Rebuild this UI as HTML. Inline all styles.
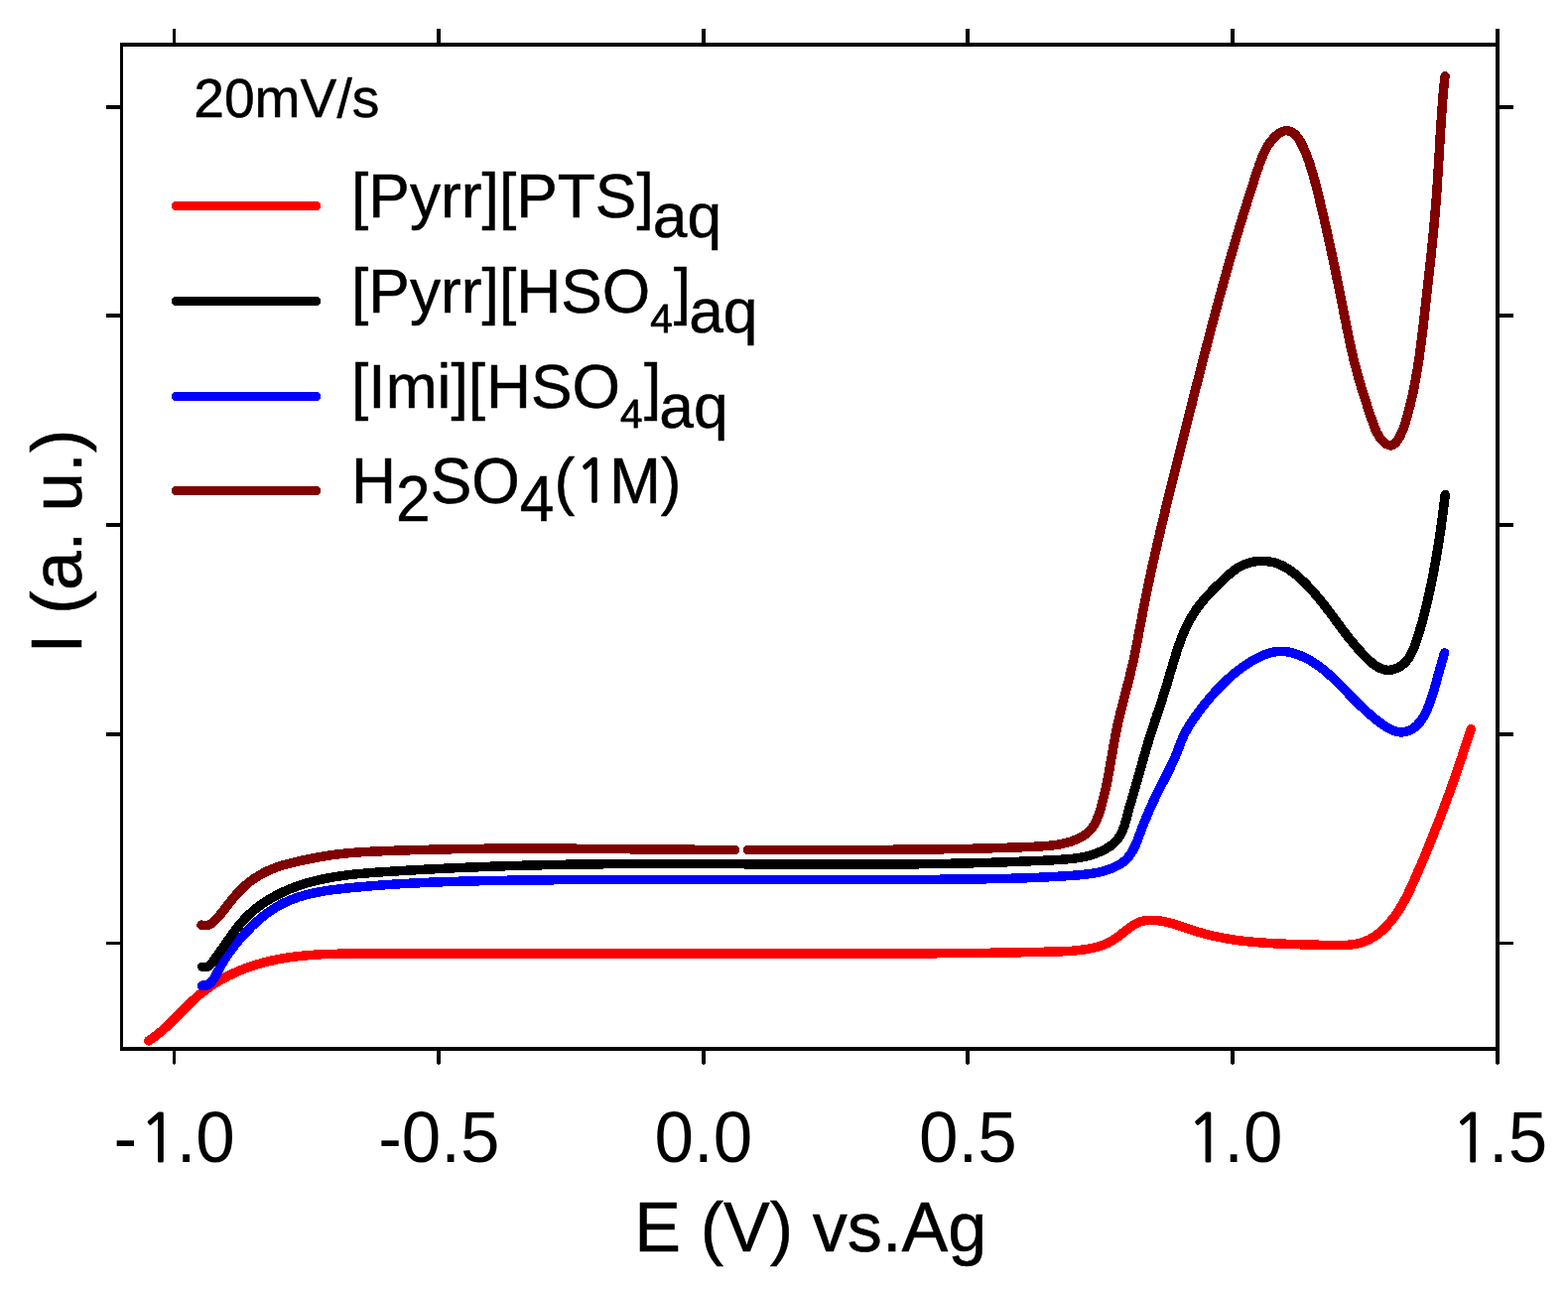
<!DOCTYPE html>
<html lang="en"><head><meta charset="utf-8"><title>I (a. u.) - E (V) vs.Ag</title>
<style>
html,body{margin:0;padding:0;background:#fff;}
body{width:1580px;height:1300px;overflow:hidden;}
svg{display:block;}
text{font-family:"Liberation Sans",sans-serif;fill:#000;font-kerning:none;stroke:#000;stroke-width:0.5px;stroke-linejoin:round;}
text.tk{stroke:none;}
.n1{font-family:"NanumGothic","Liberation Sans",sans-serif;stroke:#000;}
.ax{fill:#000;stroke:none;shape-rendering:crispEdges;}
.cv{fill:none;stroke-width:9.5;stroke-linecap:round;stroke-linejoin:round;shape-rendering:crispEdges;}
</style></head><body>
<svg width="1580" height="1300" viewBox="0 0 1580 1300">
<rect width="1580" height="1300" fill="#fff"/>
<g class="cv">
<path stroke="#ff0000" d="M149.7 1048.9C150.5 1048.3 153.1 1046.7 154.7 1045.5C156.3 1044.3 157.9 1043.1 159.5 1041.8C161.1 1040.6 162.6 1039.3 164.1 1038.0C165.6 1036.6 167.0 1035.3 168.5 1033.9C170.0 1032.6 171.4 1031.2 172.8 1029.8C174.2 1028.3 175.6 1026.9 177.1 1025.5C178.5 1024.1 179.9 1022.6 181.3 1021.2C182.7 1019.8 184.1 1018.3 185.5 1016.9C186.9 1015.5 188.3 1014.1 189.7 1012.7C191.2 1011.2 192.6 1009.9 194.1 1008.5C195.6 1007.1 197.1 1005.8 198.6 1004.4C200.1 1003.1 201.7 1001.8 203.3 1000.6C204.8 999.3 206.5 998.1 208.1 996.9C209.7 995.7 211.4 994.5 213.1 993.4C214.8 992.2 216.5 991.1 218.2 990.1C220.0 989.0 221.7 988.0 223.5 986.9C225.3 985.9 227.1 985.0 228.9 984.0C230.7 983.1 232.5 982.2 234.3 981.3C236.2 980.5 238.0 979.6 239.8 978.8C241.7 978.0 243.6 977.3 245.4 976.5C247.3 975.8 249.2 975.1 251.1 974.4C252.9 973.8 254.8 973.2 256.7 972.6C258.6 972.0 260.5 971.4 262.5 970.9C264.4 970.3 266.3 969.8 268.2 969.3C270.1 968.8 272.1 968.4 274.0 968.0C275.9 967.5 277.9 967.1 279.8 966.8C281.8 966.4 283.7 966.0 285.7 965.7C287.6 965.4 289.6 965.1 291.6 964.8C293.5 964.5 295.5 964.2 297.5 964.0C299.5 963.8 301.4 963.5 303.4 963.3C305.4 963.1 307.4 962.9 309.4 962.8C311.4 962.6 313.4 962.5 315.4 962.3C317.4 962.2 319.4 962.0 321.4 961.9C323.4 961.8 325.4 961.7 327.4 961.6C329.4 961.6 331.4 961.5 333.4 961.4C335.4 961.4 337.5 961.3 339.5 961.3C341.5 961.2 343.5 961.2 345.5 961.1C347.5 961.1 349.6 961.1 351.6 961.1C353.6 961.1 355.6 961.0 357.7 961.0C359.7 961.0 361.7 961.0 363.7 961.0C365.8 961.0 367.8 961.0 369.8 961.0C371.8 961.0 373.8 961.0 375.9 961.0C377.9 961.0 379.9 961.0 381.9 961.0C384.0 961.0 386.0 961.0 388.0 961.0C390.0 961.0 392.0 961.0 394.1 961.0C396.1 961.0 398.1 961.0 400.1 961.0C402.2 961.0 404.2 961.0 406.2 961.0C408.2 961.0 410.2 961.0 412.3 961.0C414.3 961.0 416.3 961.0 418.3 961.0C420.3 961.0 422.3 961.0 424.4 961.0C426.4 961.0 428.4 961.0 430.4 961.0C432.4 961.0 434.5 961.0 436.5 961.0C438.5 961.0 440.5 961.0 442.5 961.0C444.5 961.0 446.6 961.0 448.6 961.0C450.6 961.0 452.6 961.0 454.6 961.0C456.6 961.0 458.6 961.0 460.7 960.9C462.7 960.9 464.7 960.9 466.7 960.9C468.7 960.9 470.7 960.9 472.7 960.9C474.8 960.9 476.8 960.9 478.8 960.9C480.8 960.9 482.8 960.9 484.8 960.9C486.8 960.9 488.9 960.9 490.9 960.9C492.9 960.9 494.9 960.9 496.9 960.9C498.9 960.9 500.9 960.9 502.9 960.9C505.0 960.9 507.0 960.9 509.0 960.9C511.0 960.9 513.0 960.9 515.0 960.9C517.0 960.9 519.0 960.9 521.0 960.9C523.1 960.9 525.1 960.9 527.1 960.9C529.1 960.9 531.1 960.9 533.1 960.9C535.1 960.9 537.1 960.9 539.1 960.9C541.1 960.9 543.2 960.9 545.2 960.9C547.2 960.9 549.2 960.9 551.2 960.9C553.2 960.9 555.2 960.9 557.2 960.9C559.2 960.9 561.2 960.9 563.2 960.9C565.3 960.9 567.3 960.9 569.3 960.9C571.3 960.9 573.3 960.9 575.3 960.9C577.3 960.9 579.3 960.9 581.3 960.9C583.3 960.9 585.3 960.9 587.3 960.9C589.4 960.9 591.4 960.9 593.4 960.9C595.4 960.9 597.4 960.9 599.4 960.9C601.4 960.9 603.4 960.9 605.4 960.9C607.4 960.9 609.4 960.9 611.4 960.9C613.4 960.9 615.5 960.9 617.5 960.9C619.5 960.9 621.5 960.9 623.5 960.9C625.5 960.9 627.5 960.9 629.5 960.9C631.5 960.9 633.5 960.9 635.5 960.9C637.5 960.9 639.5 960.9 641.5 960.9C643.5 960.9 645.6 960.9 647.6 960.9C649.6 960.9 651.6 960.9 653.6 960.9C655.6 960.9 657.6 960.9 659.6 960.9C661.6 960.9 663.6 960.9 665.6 960.9C667.6 960.9 669.6 960.9 671.6 960.9C673.6 960.9 675.7 960.9 677.7 960.9C679.7 960.9 681.7 960.9 683.7 960.9C685.7 960.9 687.7 960.9 689.7 960.9C691.7 960.9 693.7 960.9 695.7 960.9C697.7 960.9 699.7 960.9 701.7 960.9C703.7 960.9 705.8 960.9 707.8 960.9C709.8 960.9 711.8 960.9 713.8 960.9C715.8 960.9 717.8 960.9 719.8 960.9C721.8 960.9 723.8 960.9 725.8 960.9C727.8 960.9 729.8 960.9 731.8 960.9C733.8 960.9 735.9 960.9 737.9 960.9C739.9 960.9 741.9 960.9 743.9 960.9C745.9 960.9 747.9 960.9 749.9 960.9C751.9 960.9 753.9 960.9 755.9 960.9C757.9 960.9 759.9 960.9 762.0 960.9C764.0 960.9 766.0 960.9 768.0 960.9C770.0 960.9 772.0 960.9 774.0 960.9C776.0 960.9 778.0 960.9 780.0 960.9C782.0 960.9 784.0 960.9 786.1 960.9C788.1 960.9 790.1 960.9 792.1 960.9C794.1 960.9 796.1 960.9 798.1 960.9C800.1 960.9 802.1 960.9 804.1 960.9C806.1 960.9 808.2 960.9 810.2 960.9C812.2 960.9 814.2 960.9 816.2 960.9C818.2 960.9 820.2 960.9 822.2 960.9C824.2 960.9 826.2 960.9 828.3 960.9C830.3 960.9 832.3 960.9 834.3 960.9C836.3 960.9 838.3 960.9 840.3 960.9C842.3 960.9 844.3 960.9 846.4 960.9C848.4 960.9 850.4 960.9 852.4 960.9C854.4 960.9 856.4 960.9 858.4 960.9C860.4 960.9 862.5 960.9 864.5 960.9C866.5 960.9 868.5 960.9 870.5 960.9C872.5 960.9 874.5 960.9 876.5 960.9C878.6 960.9 880.6 960.9 882.6 960.9C884.6 960.9 886.6 960.9 888.6 960.9C890.6 960.9 892.7 960.9 894.7 960.9C896.7 960.9 898.7 960.9 900.7 960.9C902.7 960.9 904.7 960.9 906.7 960.9C908.8 960.9 910.8 960.9 912.8 960.9C914.8 960.9 916.8 960.9 918.8 960.9C920.8 960.9 922.9 960.9 924.9 960.8C926.9 960.8 928.9 960.8 930.9 960.8C932.9 960.8 934.9 960.8 937.0 960.8C939.0 960.8 941.0 960.8 943.0 960.8C945.0 960.7 947.0 960.7 949.0 960.7C951.1 960.7 953.1 960.7 955.1 960.7C957.1 960.7 959.1 960.7 961.1 960.6C963.1 960.6 965.2 960.6 967.2 960.6C969.2 960.6 971.2 960.5 973.2 960.5C975.2 960.5 977.2 960.5 979.3 960.5C981.3 960.4 983.3 960.4 985.3 960.4C987.3 960.4 989.3 960.4 991.3 960.3C993.3 960.3 995.4 960.3 997.4 960.3C999.4 960.2 1001.4 960.2 1003.4 960.2C1005.4 960.1 1007.4 960.1 1009.5 960.1C1011.5 960.0 1013.5 960.0 1015.5 960.0C1017.5 960.0 1019.5 959.9 1021.5 959.9C1023.6 959.8 1025.6 959.8 1027.6 959.8C1029.6 959.7 1031.6 959.7 1033.6 959.7C1035.6 959.6 1037.6 959.6 1039.7 959.5C1041.7 959.5 1043.7 959.4 1045.7 959.4C1047.7 959.4 1049.7 959.3 1051.7 959.3C1053.7 959.2 1055.8 959.2 1057.8 959.1C1059.8 959.1 1061.8 959.0 1063.8 959.0C1065.8 958.9 1067.8 958.8 1069.8 958.8C1071.8 958.7 1073.8 958.6 1075.9 958.5C1077.9 958.4 1079.9 958.3 1081.8 958.1C1083.8 957.9 1085.8 957.7 1087.8 957.5C1089.8 957.3 1091.8 957.0 1093.7 956.7C1095.7 956.4 1097.7 956.1 1099.6 955.6C1101.6 955.2 1103.5 954.8 1105.4 954.3C1107.3 953.7 1109.3 953.2 1111.1 952.5C1113.0 951.8 1114.8 951.0 1116.6 950.2C1118.4 949.3 1120.2 948.3 1121.9 947.2C1123.6 946.1 1125.3 944.9 1127.0 943.7C1128.6 942.5 1130.2 941.2 1131.8 939.9C1133.5 938.6 1135.1 937.3 1136.7 936.1C1138.3 934.9 1140.0 933.7 1141.7 932.6C1143.3 931.6 1145.0 930.6 1146.8 929.8C1148.6 929.1 1150.4 928.4 1152.3 928.0C1154.1 927.6 1156.1 927.4 1158.1 927.3C1160.0 927.2 1162.1 927.3 1164.1 927.4C1166.1 927.6 1168.1 927.9 1170.0 928.2C1172.0 928.5 1174.0 928.9 1175.9 929.4C1177.9 929.8 1179.8 930.4 1181.8 930.9C1183.7 931.5 1185.6 932.1 1187.5 932.7C1189.5 933.3 1191.4 933.9 1193.3 934.6C1195.2 935.2 1197.1 935.9 1199.1 936.5C1201.0 937.2 1202.9 937.8 1204.8 938.4C1206.8 939.0 1208.7 939.6 1210.7 940.2C1212.6 940.7 1214.5 941.2 1216.5 941.7C1218.4 942.2 1220.4 942.7 1222.4 943.2C1224.3 943.6 1226.3 944.0 1228.3 944.4C1230.3 944.8 1232.2 945.2 1234.2 945.6C1236.2 945.9 1238.2 946.2 1240.2 946.6C1242.2 946.9 1244.1 947.2 1246.1 947.4C1248.1 947.7 1250.1 947.9 1252.1 948.2C1254.1 948.4 1256.1 948.6 1258.1 948.8C1260.1 949.0 1262.1 949.2 1264.1 949.4C1266.1 949.6 1268.1 949.7 1270.1 949.9C1272.2 950.0 1274.2 950.2 1276.2 950.3C1278.2 950.4 1280.2 950.5 1282.2 950.7C1284.2 950.8 1286.2 950.9 1288.2 951.0C1290.2 951.0 1292.2 951.1 1294.2 951.2C1296.1 951.3 1298.1 951.4 1300.1 951.4C1302.1 951.5 1304.1 951.6 1306.1 951.6C1308.1 951.7 1310.0 951.8 1312.0 951.8C1314.0 951.9 1316.0 951.9 1318.0 952.0C1320.0 952.1 1322.0 952.1 1324.0 952.2C1326.0 952.2 1328.0 952.2 1330.0 952.3C1332.0 952.3 1334.1 952.4 1336.1 952.4C1338.2 952.4 1340.2 952.5 1342.3 952.5C1344.4 952.5 1346.4 952.6 1348.5 952.6C1350.6 952.6 1352.7 952.6 1354.8 952.5C1356.8 952.4 1358.9 952.2 1360.9 952.0C1363.0 951.8 1365.0 951.5 1366.9 951.1C1368.9 950.7 1370.8 950.3 1372.7 949.6C1374.6 949.0 1376.4 948.3 1378.2 947.5C1379.9 946.7 1381.7 945.7 1383.3 944.7C1385.0 943.7 1386.6 942.6 1388.2 941.4C1389.8 940.2 1391.3 938.9 1392.8 937.6C1394.3 936.3 1395.7 934.8 1397.1 933.4C1398.5 931.9 1399.8 930.4 1401.1 928.9C1402.4 927.3 1403.6 925.7 1404.8 924.1C1406.0 922.5 1407.2 920.8 1408.3 919.2C1409.4 917.5 1410.5 915.8 1411.5 914.1C1412.6 912.3 1413.6 910.6 1414.5 908.8C1415.5 907.1 1416.4 905.3 1417.4 903.5C1418.3 901.7 1419.2 899.9 1420.0 898.1C1420.9 896.3 1421.8 894.4 1422.6 892.6C1423.5 890.8 1424.3 888.9 1425.1 887.1C1425.9 885.2 1426.7 883.4 1427.5 881.5C1428.3 879.7 1429.1 877.8 1429.9 876.0C1430.7 874.1 1431.5 872.3 1432.3 870.4C1433.1 868.6 1433.9 866.7 1434.7 864.9C1435.5 863.0 1436.2 861.2 1437.0 859.3C1437.8 857.4 1438.5 855.6 1439.3 853.7C1440.1 851.9 1440.8 850.0 1441.6 848.1C1442.3 846.3 1443.1 844.4 1443.8 842.5C1444.6 840.7 1445.3 838.8 1446.0 836.9C1446.8 835.1 1447.5 833.2 1448.3 831.3C1449.0 829.5 1449.7 827.6 1450.4 825.7C1451.1 823.8 1451.9 822.0 1452.6 820.1C1453.3 818.2 1454.0 816.3 1454.7 814.4C1455.4 812.6 1456.1 810.7 1456.8 808.8C1457.5 806.9 1458.2 805.0 1458.9 803.2C1459.6 801.3 1460.3 799.4 1461.0 797.5C1461.6 795.6 1462.3 793.7 1463.0 791.8C1463.7 789.9 1464.4 788.0 1465.0 786.1C1465.7 784.3 1466.4 782.4 1467.0 780.5C1467.7 778.6 1468.3 776.7 1469.0 774.8C1469.6 772.9 1470.3 771.0 1470.9 769.1C1471.6 767.2 1472.2 765.3 1472.9 763.4C1473.5 761.5 1474.2 759.5 1474.8 757.6C1475.4 755.7 1476.1 753.8 1476.7 751.9C1477.3 750.0 1477.9 748.1 1478.6 746.2C1479.2 744.3 1479.8 742.4 1480.4 740.4C1481.0 738.5 1482.0 735.6 1482.3 734.7"/>
<path stroke="#0000ff" d="M203.4 993.2C204.4 993.1 207.6 993.2 209.3 992.5C211.0 991.8 212.4 990.3 213.7 988.9C215.0 987.4 216.0 985.5 217.1 983.7C218.2 981.9 219.1 979.8 220.1 977.9C221.1 976.1 222.1 974.2 223.2 972.4C224.2 970.6 225.2 968.9 226.3 967.2C227.4 965.5 228.5 963.8 229.6 962.2C230.7 960.6 231.8 959.0 233.0 957.4C234.2 955.8 235.4 954.3 236.6 952.7C237.8 951.2 239.1 949.7 240.3 948.1C241.6 946.6 242.9 945.1 244.3 943.6C245.6 942.0 247.0 940.5 248.4 939.0C249.8 937.5 251.2 936.1 252.7 934.6C254.1 933.2 255.6 931.7 257.1 930.3C258.6 928.9 260.2 927.6 261.7 926.2C263.3 924.9 264.9 923.6 266.5 922.3C268.1 921.1 269.8 919.8 271.4 918.7C273.1 917.5 274.8 916.4 276.5 915.3C278.2 914.2 279.9 913.2 281.7 912.2C283.4 911.3 285.2 910.4 287.0 909.5C288.8 908.7 290.6 907.9 292.5 907.1C294.3 906.4 296.1 905.7 298.0 905.0C299.9 904.3 301.8 903.7 303.7 903.2C305.6 902.6 307.5 902.1 309.4 901.6C311.3 901.1 313.3 900.6 315.2 900.2C317.2 899.7 319.1 899.3 321.1 899.0C323.1 898.6 325.1 898.3 327.1 897.9C329.0 897.6 331.0 897.3 333.0 897.0C335.0 896.8 337.1 896.5 339.1 896.3C341.1 896.0 343.1 895.8 345.1 895.6C347.1 895.3 349.1 895.1 351.1 894.9C353.2 894.7 355.2 894.5 357.2 894.3C359.2 894.1 361.2 893.9 363.2 893.8C365.3 893.6 367.3 893.4 369.3 893.2C371.3 893.1 373.3 892.9 375.3 892.7C377.3 892.6 379.4 892.4 381.4 892.2C383.4 892.1 385.4 891.9 387.4 891.8C389.4 891.7 391.5 891.5 393.5 891.4C395.5 891.2 397.5 891.1 399.5 891.0C401.5 890.9 403.5 890.7 405.6 890.6C407.6 890.5 409.6 890.4 411.6 890.3C413.6 890.2 415.6 890.1 417.6 890.0C419.6 889.9 421.7 889.8 423.7 889.7C425.7 889.6 427.7 889.5 429.7 889.4C431.7 889.3 433.7 889.2 435.8 889.1C437.8 889.1 439.8 889.0 441.8 888.9C443.8 888.8 445.8 888.8 447.8 888.7C449.8 888.6 451.9 888.6 453.9 888.5C455.9 888.4 457.9 888.4 459.9 888.3C461.9 888.3 463.9 888.2 465.9 888.1C468.0 888.1 470.0 888.0 472.0 888.0C474.0 887.9 476.0 887.9 478.0 887.9C480.0 887.8 482.0 887.8 484.1 887.7C486.1 887.7 488.1 887.6 490.1 887.6C492.1 887.6 494.1 887.5 496.1 887.5C498.1 887.5 500.2 887.4 502.2 887.4C504.2 887.4 506.2 887.3 508.2 887.3C510.2 887.3 512.2 887.2 514.2 887.2C516.3 887.2 518.3 887.2 520.3 887.1C522.3 887.1 524.3 887.1 526.3 887.1C528.3 887.0 530.4 887.0 532.4 887.0C534.4 887.0 536.4 887.0 538.4 886.9C540.4 886.9 542.4 886.9 544.4 886.9C546.5 886.8 548.5 886.8 550.5 886.8C552.5 886.8 554.5 886.8 556.5 886.8C558.5 886.7 560.6 886.7 562.6 886.7C564.6 886.7 566.6 886.7 568.6 886.7C570.6 886.6 572.6 886.6 574.7 886.6C576.7 886.6 578.7 886.6 580.7 886.6C582.7 886.6 584.7 886.5 586.8 886.5C588.8 886.5 590.8 886.5 592.8 886.5C594.8 886.5 596.8 886.5 598.8 886.5C600.9 886.5 602.9 886.5 604.9 886.4C606.9 886.4 608.9 886.4 610.9 886.4C612.9 886.4 615.0 886.4 617.0 886.4C619.0 886.4 621.0 886.4 623.0 886.4C625.0 886.4 627.1 886.4 629.1 886.4C631.1 886.4 633.1 886.4 635.1 886.4C637.1 886.4 639.1 886.3 641.2 886.3C643.2 886.3 645.2 886.3 647.2 886.3C649.2 886.3 651.2 886.3 653.3 886.3C655.3 886.3 657.3 886.3 659.3 886.3C661.3 886.3 663.3 886.3 665.3 886.3C667.4 886.3 669.4 886.3 671.4 886.3C673.4 886.3 675.4 886.3 677.4 886.3C679.5 886.3 681.5 886.3 683.5 886.3C685.5 886.3 687.5 886.3 689.5 886.3C691.6 886.3 693.6 886.3 695.6 886.3C697.6 886.3 699.6 886.3 701.6 886.3C703.7 886.3 705.7 886.3 707.7 886.4C709.7 886.4 711.7 886.4 713.7 886.4C715.7 886.4 717.8 886.4 719.8 886.4C721.8 886.4 723.8 886.4 725.8 886.4C727.8 886.4 729.9 886.4 731.9 886.4C733.9 886.4 735.9 886.4 737.9 886.4C739.9 886.4 742.0 886.4 744.0 886.4C746.0 886.4 748.0 886.4 750.0 886.4C752.0 886.4 754.1 886.4 756.1 886.4C758.1 886.4 760.1 886.4 762.1 886.4C764.1 886.5 766.2 886.5 768.2 886.5C770.2 886.5 772.2 886.5 774.2 886.5C776.2 886.5 778.2 886.5 780.3 886.5C782.3 886.5 784.3 886.5 786.3 886.5C788.3 886.5 790.3 886.5 792.4 886.5C794.4 886.5 796.4 886.5 798.4 886.5C800.4 886.5 802.4 886.5 804.5 886.5C806.5 886.5 808.5 886.5 810.5 886.5C812.5 886.5 814.5 886.5 816.6 886.5C818.6 886.5 820.6 886.5 822.6 886.6C824.6 886.6 826.6 886.6 828.6 886.6C830.7 886.6 832.7 886.6 834.7 886.6C836.7 886.6 838.7 886.6 840.7 886.6C842.8 886.6 844.8 886.6 846.8 886.6C848.8 886.6 850.8 886.6 852.8 886.6C854.8 886.6 856.9 886.6 858.9 886.6C860.9 886.6 862.9 886.6 864.9 886.6C866.9 886.6 869.0 886.6 871.0 886.6C873.0 886.5 875.0 886.5 877.0 886.5C879.0 886.5 881.0 886.5 883.1 886.5C885.1 886.5 887.1 886.5 889.1 886.5C891.1 886.5 893.1 886.5 895.1 886.5C897.2 886.5 899.2 886.5 901.2 886.5C903.2 886.5 905.2 886.5 907.2 886.5C909.2 886.5 911.3 886.5 913.3 886.4C915.3 886.4 917.3 886.4 919.3 886.4C921.3 886.4 923.3 886.4 925.4 886.4C927.4 886.4 929.4 886.4 931.4 886.4C933.4 886.3 935.4 886.3 937.4 886.3C939.5 886.3 941.5 886.3 943.5 886.3C945.5 886.3 947.5 886.3 949.5 886.2C951.5 886.2 953.5 886.2 955.6 886.2C957.6 886.2 959.6 886.2 961.6 886.1C963.6 886.1 965.6 886.1 967.6 886.1C969.7 886.1 971.7 886.0 973.7 886.0C975.7 886.0 977.7 886.0 979.7 886.0C981.7 885.9 983.7 885.9 985.8 885.9C987.8 885.9 989.8 885.8 991.8 885.8C993.8 885.8 995.8 885.7 997.8 885.7C999.8 885.7 1001.9 885.6 1003.9 885.6C1005.9 885.5 1007.9 885.5 1009.9 885.5C1011.9 885.4 1013.9 885.4 1016.0 885.3C1018.0 885.3 1020.0 885.2 1022.0 885.2C1024.0 885.1 1026.0 885.0 1028.0 885.0C1030.1 884.9 1032.1 884.8 1034.1 884.8C1036.1 884.7 1038.1 884.6 1040.1 884.5C1042.2 884.5 1044.2 884.4 1046.2 884.3C1048.2 884.2 1050.2 884.1 1052.2 884.0C1054.3 883.9 1056.3 883.8 1058.3 883.7C1060.3 883.6 1062.3 883.5 1064.3 883.4C1066.4 883.2 1068.4 883.1 1070.4 883.0C1072.4 882.9 1074.4 882.7 1076.5 882.6C1078.5 882.5 1080.5 882.3 1082.5 882.2C1084.6 882.0 1086.6 881.9 1088.6 881.7C1090.6 881.5 1092.6 881.3 1094.6 881.0C1096.6 880.8 1098.6 880.6 1100.6 880.2C1102.6 879.9 1104.6 879.6 1106.5 879.2C1108.5 878.7 1110.5 878.3 1112.4 877.7C1114.3 877.2 1116.2 876.6 1118.1 875.9C1120.0 875.2 1121.9 874.4 1123.7 873.6C1125.5 872.7 1127.3 871.8 1129.0 870.7C1130.7 869.6 1132.3 868.4 1133.8 867.1C1135.2 865.8 1136.6 864.3 1137.8 862.8C1139.0 861.3 1140.0 859.6 1141.0 857.9C1142.0 856.1 1142.9 854.3 1143.8 852.5C1144.6 850.6 1145.4 848.7 1146.1 846.8C1146.9 844.9 1147.6 842.9 1148.3 841.0C1149.1 839.1 1149.8 837.2 1150.5 835.3C1151.2 833.4 1152.0 831.5 1152.7 829.6C1153.5 827.7 1154.2 825.9 1155.0 824.0C1155.8 822.2 1156.6 820.3 1157.3 818.5C1158.1 816.7 1158.9 814.8 1159.7 813.0C1160.6 811.2 1161.4 809.4 1162.2 807.6C1163.1 805.8 1163.9 804.0 1164.8 802.2C1165.7 800.4 1166.6 798.6 1167.5 796.8C1168.4 795.0 1169.3 793.2 1170.2 791.4C1171.1 789.6 1172.1 787.8 1173.0 786.0C1173.9 784.2 1174.8 782.4 1175.7 780.6C1176.7 778.8 1177.6 777.0 1178.5 775.1C1179.3 773.3 1180.2 771.5 1181.1 769.6C1181.9 767.8 1182.8 766.0 1183.6 764.1C1184.4 762.2 1185.1 760.4 1185.9 758.5C1186.6 756.6 1187.3 754.7 1188.1 752.8C1188.8 751.0 1189.5 749.1 1190.3 747.2C1191.0 745.4 1191.8 743.5 1192.6 741.7C1193.5 739.9 1194.4 738.1 1195.3 736.3C1196.3 734.6 1197.3 732.8 1198.4 731.1C1199.4 729.4 1200.6 727.7 1201.7 726.1C1202.8 724.4 1204.0 722.7 1205.2 721.1C1206.3 719.5 1207.5 717.8 1208.7 716.2C1210.0 714.6 1211.2 713.0 1212.4 711.4C1213.7 709.8 1214.9 708.3 1216.2 706.7C1217.5 705.2 1218.8 703.6 1220.1 702.1C1221.4 700.6 1222.7 699.1 1224.1 697.6C1225.4 696.1 1226.8 694.6 1228.2 693.2C1229.6 691.7 1231.0 690.3 1232.4 688.9C1233.8 687.5 1235.3 686.1 1236.8 684.8C1238.3 683.4 1239.8 682.1 1241.3 680.8C1242.8 679.5 1244.4 678.2 1246.0 676.9C1247.6 675.7 1249.2 674.4 1250.8 673.3C1252.5 672.1 1254.1 670.9 1255.8 669.8C1257.5 668.6 1259.3 667.5 1261.0 666.4C1262.8 665.4 1264.6 664.4 1266.4 663.4C1268.2 662.5 1270.0 661.6 1271.9 660.8C1273.7 660.0 1275.6 659.2 1277.5 658.6C1279.4 658.0 1281.3 657.5 1283.2 657.2C1285.2 656.8 1287.1 656.5 1289.1 656.4C1291.0 656.3 1293.0 656.4 1295.0 656.6C1296.9 656.8 1298.9 657.1 1300.9 657.6C1302.9 658.0 1304.8 658.6 1306.7 659.3C1308.7 660.0 1310.6 660.7 1312.4 661.6C1314.3 662.4 1316.1 663.3 1317.9 664.3C1319.7 665.2 1321.4 666.3 1323.2 667.4C1324.9 668.4 1326.5 669.6 1328.2 670.7C1329.8 671.9 1331.4 673.1 1333.0 674.4C1334.5 675.6 1336.1 676.9 1337.6 678.3C1339.1 679.6 1340.6 680.9 1342.1 682.3C1343.6 683.7 1345.1 685.1 1346.5 686.5C1348.0 687.9 1349.4 689.4 1350.8 690.8C1352.2 692.2 1353.6 693.7 1355.0 695.1C1356.4 696.6 1357.8 698.0 1359.2 699.5C1360.6 700.9 1362.0 702.4 1363.4 703.8C1364.8 705.2 1366.2 706.6 1367.7 708.0C1369.1 709.4 1370.5 710.8 1371.9 712.2C1373.4 713.6 1374.8 715.0 1376.3 716.3C1377.8 717.7 1379.3 719.0 1380.8 720.3C1382.4 721.7 1383.9 723.0 1385.5 724.3C1387.1 725.5 1388.8 726.8 1390.4 728.1C1392.1 729.3 1393.8 730.6 1395.6 731.7C1397.3 732.9 1399.1 734.0 1400.9 734.9C1402.7 735.8 1404.5 736.6 1406.4 737.1C1408.3 737.6 1410.1 737.9 1412.0 737.9C1413.9 737.9 1415.8 737.6 1417.6 737.0C1419.5 736.5 1421.3 735.6 1423.0 734.6C1424.7 733.6 1426.3 732.3 1427.8 731.0C1429.3 729.6 1430.6 728.0 1431.8 726.3C1433.0 724.7 1434.1 722.9 1435.1 721.1C1436.1 719.3 1437.0 717.4 1437.8 715.6C1438.7 713.7 1439.4 711.8 1440.2 709.9C1440.9 708.0 1441.5 706.1 1442.2 704.2C1442.8 702.3 1443.4 700.3 1444.0 698.4C1444.6 696.5 1445.2 694.6 1445.8 692.6C1446.3 690.7 1446.9 688.8 1447.4 686.8C1448.0 684.9 1448.5 683.0 1449.0 681.0C1449.6 679.1 1450.1 677.2 1450.6 675.2C1451.1 673.3 1451.7 671.3 1452.2 669.4C1452.8 667.5 1453.3 665.5 1453.9 663.6C1454.4 661.7 1455.3 658.8 1455.6 657.8"/>
<path stroke="#000000" d="M203.9 974.3C204.9 974.3 208.1 974.7 209.8 974.0C211.4 973.3 212.7 971.6 214.0 970.1C215.3 968.5 216.4 966.6 217.5 964.9C218.7 963.2 220.0 961.5 221.2 959.9C222.3 958.2 223.5 956.6 224.7 954.9C225.9 953.2 227.0 951.6 228.2 949.9C229.4 948.2 230.5 946.5 231.7 944.9C232.9 943.2 234.0 941.6 235.2 939.9C236.4 938.3 237.6 936.7 238.9 935.1C240.1 933.5 241.4 931.9 242.7 930.4C244.0 928.9 245.3 927.3 246.7 925.9C248.1 924.4 249.5 923.0 251.0 921.6C252.4 920.3 254.0 918.9 255.5 917.6C257.0 916.3 258.6 915.1 260.2 913.9C261.8 912.7 263.4 911.5 265.1 910.3C266.8 909.2 268.5 908.1 270.2 907.0C271.9 906.0 273.6 904.9 275.4 904.0C277.1 903.0 278.9 902.0 280.7 901.1C282.5 900.2 284.3 899.3 286.2 898.5C288.0 897.6 289.8 896.8 291.7 896.1C293.5 895.3 295.4 894.6 297.3 893.9C299.2 893.2 301.0 892.5 302.9 891.9C304.8 891.3 306.7 890.7 308.6 890.1C310.6 889.5 312.5 889.0 314.4 888.5C316.3 888.0 318.3 887.5 320.2 887.1C322.1 886.6 324.1 886.2 326.1 885.8C328.0 885.4 330.0 885.0 331.9 884.6C333.9 884.3 335.9 883.9 337.9 883.6C339.9 883.3 341.8 883.0 343.8 882.7C345.8 882.4 347.8 882.2 349.8 881.9C351.8 881.7 353.8 881.5 355.8 881.2C357.8 881.0 359.8 880.8 361.9 880.6C363.9 880.4 365.9 880.3 367.9 880.1C369.9 879.9 371.9 879.7 374.0 879.6C376.0 879.4 378.0 879.3 380.0 879.1C382.0 879.0 384.1 878.9 386.1 878.7C388.1 878.6 390.1 878.5 392.2 878.3C394.2 878.2 396.2 878.1 398.2 878.0C400.2 877.8 402.3 877.7 404.3 877.6C406.3 877.5 408.3 877.3 410.4 877.2C412.4 877.1 414.4 877.0 416.4 876.9C418.4 876.8 420.4 876.6 422.5 876.5C424.5 876.4 426.5 876.3 428.5 876.2C430.5 876.1 432.6 876.0 434.6 875.9C436.6 875.8 438.6 875.7 440.6 875.6C442.6 875.5 444.7 875.4 446.7 875.3C448.7 875.2 450.7 875.1 452.7 875.0C454.7 874.9 456.7 874.8 458.8 874.7C460.8 874.6 462.8 874.5 464.8 874.4C466.8 874.4 468.8 874.3 470.8 874.2C472.9 874.1 474.9 874.0 476.9 873.9C478.9 873.9 480.9 873.8 482.9 873.7C484.9 873.6 486.9 873.5 489.0 873.5C491.0 873.4 493.0 873.3 495.0 873.2C497.0 873.2 499.0 873.1 501.0 873.0C503.0 873.0 505.1 872.9 507.1 872.8C509.1 872.8 511.1 872.7 513.1 872.6C515.1 872.6 517.1 872.5 519.1 872.5C521.1 872.4 523.1 872.3 525.2 872.3C527.2 872.2 529.2 872.2 531.2 872.1C533.2 872.1 535.2 872.0 537.2 872.0C539.2 871.9 541.2 871.9 543.3 871.8C545.3 871.8 547.3 871.7 549.3 871.7C551.3 871.6 553.3 871.6 555.3 871.6C557.3 871.5 559.3 871.5 561.3 871.4C563.3 871.4 565.4 871.4 567.4 871.3C569.4 871.3 571.4 871.2 573.4 871.2C575.4 871.2 577.4 871.1 579.4 871.1C581.4 871.1 583.4 871.1 585.5 871.0C587.5 871.0 589.5 871.0 591.5 870.9C593.5 870.9 595.5 870.9 597.5 870.9C599.5 870.8 601.5 870.8 603.5 870.8C605.6 870.8 607.6 870.8 609.6 870.7C611.6 870.7 613.6 870.7 615.6 870.7C617.6 870.7 619.6 870.7 621.6 870.6C623.7 870.6 625.7 870.6 627.7 870.6C629.7 870.6 631.7 870.6 633.7 870.6C635.7 870.6 637.7 870.6 639.7 870.5C641.7 870.5 643.8 870.5 645.8 870.5C647.8 870.5 649.8 870.5 651.8 870.5C653.8 870.5 655.8 870.5 657.8 870.5C659.9 870.5 661.9 870.5 663.9 870.5C665.9 870.5 667.9 870.5 669.9 870.5C671.9 870.5 673.9 870.5 676.0 870.5C678.0 870.5 680.0 870.5 682.0 870.5C684.0 870.5 686.0 870.5 688.0 870.5C690.0 870.5 692.0 870.5 694.1 870.5C696.1 870.5 698.1 870.5 700.1 870.5C702.1 870.5 704.1 870.5 706.1 870.6C708.2 870.6 710.2 870.6 712.2 870.6C714.2 870.6 716.2 870.6 718.2 870.6C720.2 870.6 722.2 870.6 724.3 870.6C726.3 870.6 728.3 870.6 730.3 870.7C732.3 870.7 734.3 870.7 736.3 870.7C738.3 870.7 740.4 870.7 742.4 870.7C744.4 870.7 746.4 870.7 748.4 870.7C750.4 870.8 752.4 870.8 754.5 870.8C756.5 870.8 758.5 870.8 760.5 870.8C762.5 870.8 764.5 870.8 766.5 870.8C768.6 870.9 770.6 870.9 772.6 870.9C774.6 870.9 776.6 870.9 778.6 870.9C780.6 870.9 782.7 870.9 784.7 870.9C786.7 870.9 788.7 871.0 790.7 871.0C792.7 871.0 794.7 871.0 796.8 871.0C798.8 871.0 800.8 871.0 802.8 871.0C804.8 871.0 806.8 871.0 808.8 871.0C810.9 871.1 812.9 871.1 814.9 871.1C816.9 871.1 818.9 871.1 820.9 871.1C822.9 871.1 825.0 871.1 827.0 871.1C829.0 871.1 831.0 871.1 833.0 871.1C835.0 871.1 837.0 871.1 839.1 871.1C841.1 871.1 843.1 871.1 845.1 871.1C847.1 871.1 849.1 871.1 851.2 871.1C853.2 871.1 855.2 871.1 857.2 871.1C859.2 871.1 861.2 871.1 863.2 871.1C865.3 871.1 867.3 871.1 869.3 871.1C871.3 871.1 873.3 871.1 875.3 871.1C877.3 871.1 879.4 871.1 881.4 871.1C883.4 871.1 885.4 871.1 887.4 871.1C889.4 871.1 891.5 871.0 893.5 871.0C895.5 871.0 897.5 871.0 899.5 871.0C901.5 871.0 903.5 871.0 905.6 871.0C907.6 870.9 909.6 870.9 911.6 870.9C913.6 870.9 915.6 870.9 917.7 870.8C919.7 870.8 921.7 870.8 923.7 870.8C925.7 870.8 927.7 870.7 929.7 870.7C931.8 870.7 933.8 870.7 935.8 870.6C937.8 870.6 939.8 870.6 941.8 870.5C943.9 870.5 945.9 870.5 947.9 870.4C949.9 870.4 951.9 870.4 953.9 870.3C955.9 870.3 958.0 870.3 960.0 870.2C962.0 870.2 964.0 870.1 966.0 870.1C968.0 870.1 970.1 870.0 972.1 870.0C974.1 869.9 976.1 869.9 978.1 869.8C980.1 869.8 982.1 869.7 984.2 869.7C986.2 869.6 988.2 869.6 990.2 869.5C992.2 869.5 994.2 869.4 996.3 869.3C998.3 869.3 1000.3 869.2 1002.3 869.2C1004.3 869.1 1006.3 869.0 1008.3 869.0C1010.4 868.9 1012.4 868.8 1014.4 868.8C1016.4 868.7 1018.4 868.6 1020.4 868.5C1022.5 868.5 1024.5 868.4 1026.5 868.3C1028.5 868.2 1030.5 868.1 1032.5 868.1C1034.5 868.0 1036.6 867.9 1038.6 867.8C1040.6 867.7 1042.6 867.6 1044.6 867.5C1046.6 867.4 1048.7 867.4 1050.7 867.3C1052.7 867.2 1054.7 867.1 1056.7 867.0C1058.7 866.9 1060.7 866.8 1062.8 866.7C1064.8 866.5 1066.8 866.4 1068.8 866.3C1070.8 866.2 1072.8 866.0 1074.8 865.9C1076.8 865.7 1078.8 865.5 1080.8 865.3C1082.8 865.0 1084.8 864.8 1086.7 864.5C1088.7 864.2 1090.7 863.8 1092.6 863.4C1094.5 863.0 1096.5 862.5 1098.4 862.0C1100.3 861.4 1102.2 860.8 1104.1 860.1C1106.0 859.4 1107.8 858.7 1109.7 857.8C1111.5 857.0 1113.4 856.1 1115.1 855.0C1116.9 854.0 1118.6 852.9 1120.2 851.6C1121.8 850.4 1123.3 849.0 1124.7 847.6C1126.0 846.1 1127.2 844.5 1128.2 842.8C1129.3 841.2 1130.2 839.4 1131.0 837.5C1131.8 835.7 1132.4 833.7 1133.1 831.8C1133.7 829.9 1134.3 827.8 1134.8 825.9C1135.4 823.9 1135.9 821.9 1136.4 819.9C1136.9 817.9 1137.5 816.0 1138.0 814.0C1138.6 812.1 1139.1 810.2 1139.7 808.3C1140.2 806.4 1140.8 804.5 1141.3 802.6C1141.9 800.7 1142.5 798.7 1143.0 796.8C1143.6 794.9 1144.1 793.0 1144.7 791.1C1145.2 789.1 1145.7 787.2 1146.3 785.3C1146.8 783.3 1147.4 781.4 1147.9 779.5C1148.5 777.5 1149.0 775.6 1149.6 773.6C1150.1 771.7 1150.7 769.7 1151.2 767.8C1151.8 765.8 1152.3 763.9 1152.9 761.9C1153.5 760.0 1154.0 758.1 1154.6 756.1C1155.2 754.2 1155.8 752.2 1156.3 750.3C1156.9 748.4 1157.5 746.4 1158.1 744.5C1158.7 742.6 1159.3 740.7 1159.9 738.7C1160.5 736.8 1161.1 734.9 1161.7 733.0C1162.4 731.1 1163.0 729.2 1163.6 727.3C1164.2 725.4 1164.9 723.5 1165.5 721.6C1166.1 719.7 1166.8 717.8 1167.4 715.9C1168.1 714.0 1168.7 712.1 1169.3 710.2C1169.9 708.3 1170.6 706.4 1171.2 704.5C1171.8 702.5 1172.4 700.6 1173.0 698.7C1173.7 696.8 1174.3 694.9 1174.9 693.0C1175.5 691.0 1176.0 689.1 1176.6 687.2C1177.2 685.2 1177.8 683.3 1178.3 681.4C1178.9 679.4 1179.5 677.5 1180.0 675.5C1180.6 673.6 1181.2 671.6 1181.8 669.7C1182.3 667.7 1182.9 665.8 1183.5 663.9C1184.1 661.9 1184.7 660.0 1185.3 658.1C1185.9 656.1 1186.6 654.2 1187.2 652.3C1187.9 650.4 1188.5 648.5 1189.2 646.6C1189.9 644.7 1190.6 642.9 1191.4 641.0C1192.1 639.1 1192.9 637.3 1193.7 635.5C1194.5 633.6 1195.3 631.8 1196.2 630.0C1197.1 628.3 1198.0 626.5 1199.0 624.7C1199.9 623.0 1200.9 621.3 1201.9 619.6C1203.0 617.9 1204.1 616.2 1205.2 614.5C1206.3 612.9 1207.5 611.3 1208.7 609.7C1210.0 608.1 1211.2 606.5 1212.6 604.9C1213.9 603.4 1215.2 601.9 1216.6 600.4C1218.0 598.9 1219.4 597.4 1220.8 595.9C1222.2 594.4 1223.7 593.0 1225.1 591.5C1226.6 590.1 1228.1 588.7 1229.5 587.3C1231.0 585.9 1232.5 584.4 1233.9 583.1C1235.4 581.7 1236.9 580.3 1238.4 579.0C1239.9 577.7 1241.4 576.4 1243.0 575.2C1244.6 574.0 1246.2 572.9 1247.9 571.9C1249.6 570.9 1251.3 570.0 1253.2 569.2C1255.0 568.4 1256.9 567.7 1258.9 567.2C1260.8 566.6 1262.8 566.2 1264.8 565.9C1266.9 565.6 1268.9 565.5 1271.0 565.4C1273.0 565.4 1275.1 565.5 1277.1 565.7C1279.1 565.9 1281.2 566.3 1283.1 566.7C1285.0 567.2 1286.9 567.8 1288.8 568.6C1290.6 569.3 1292.4 570.2 1294.2 571.1C1295.9 572.1 1297.6 573.1 1299.3 574.2C1300.9 575.4 1302.5 576.6 1304.1 577.8C1305.7 579.1 1307.2 580.4 1308.8 581.7C1310.3 583.1 1311.8 584.5 1313.2 585.9C1314.7 587.3 1316.1 588.7 1317.5 590.2C1318.9 591.6 1320.3 593.1 1321.7 594.6C1323.0 596.1 1324.4 597.7 1325.7 599.2C1327.0 600.7 1328.3 602.3 1329.6 603.9C1330.9 605.4 1332.1 607.0 1333.4 608.6C1334.7 610.2 1335.9 611.8 1337.1 613.4C1338.3 615.0 1339.6 616.7 1340.8 618.3C1342.0 619.9 1343.2 621.5 1344.4 623.1C1345.5 624.7 1346.7 626.3 1347.9 627.9C1349.1 629.5 1350.3 631.1 1351.4 632.6C1352.6 634.2 1353.8 635.8 1355.0 637.4C1356.2 638.9 1357.4 640.5 1358.6 642.1C1359.9 643.6 1361.1 645.2 1362.4 646.7C1363.6 648.3 1364.9 649.8 1366.2 651.3C1367.6 652.9 1368.9 654.4 1370.3 655.9C1371.7 657.5 1373.1 659.0 1374.6 660.5C1376.0 662.0 1377.5 663.6 1379.1 665.0C1380.6 666.4 1382.2 667.9 1383.8 669.1C1385.5 670.4 1387.1 671.5 1388.9 672.5C1390.6 673.4 1392.4 674.2 1394.2 674.7C1396.0 675.1 1397.9 675.4 1399.8 675.3C1401.7 675.2 1403.7 674.8 1405.6 674.1C1407.4 673.5 1409.3 672.6 1411.0 671.5C1412.7 670.5 1414.3 669.2 1415.7 667.8C1417.1 666.4 1418.3 664.8 1419.5 663.2C1420.6 661.5 1421.6 659.7 1422.5 657.9C1423.4 656.1 1424.2 654.2 1425.0 652.2C1425.7 650.3 1426.4 648.3 1427.1 646.4C1427.8 644.4 1428.4 642.5 1429.0 640.5C1429.6 638.6 1430.2 636.7 1430.8 634.7C1431.4 632.8 1432.0 630.9 1432.5 628.9C1433.0 627.0 1433.6 625.1 1434.1 623.1C1434.6 621.2 1435.1 619.3 1435.6 617.3C1436.1 615.4 1436.6 613.5 1437.0 611.5C1437.5 609.6 1438.0 607.7 1438.4 605.7C1438.9 603.8 1439.3 601.8 1439.7 599.9C1440.2 597.9 1440.6 596.0 1441.0 594.0C1441.5 592.0 1441.9 590.1 1442.3 588.1C1442.7 586.1 1443.1 584.2 1443.5 582.2C1443.9 580.2 1444.3 578.2 1444.6 576.3C1445.0 574.3 1445.4 572.3 1445.7 570.3C1446.1 568.3 1446.5 566.4 1446.8 564.4C1447.2 562.4 1447.5 560.4 1447.8 558.4C1448.2 556.4 1448.5 554.4 1448.8 552.4C1449.2 550.4 1449.5 548.5 1449.8 546.5C1450.1 544.5 1450.4 542.5 1450.7 540.5C1451.0 538.5 1451.3 536.5 1451.6 534.5C1451.9 532.5 1452.2 530.5 1452.4 528.5C1452.7 526.5 1453.0 524.5 1453.3 522.5C1453.5 520.5 1453.8 518.5 1454.0 516.5C1454.3 514.5 1454.6 512.5 1454.8 510.5C1455.0 508.5 1455.3 506.5 1455.5 504.5C1455.8 502.5 1456.1 499.5 1456.2 498.5"/>
<path stroke="#800000" d="M202.9 932.2C203.9 932.3 207.0 933.0 208.9 932.7C210.7 932.3 212.3 931.3 213.9 930.1C215.4 929.0 216.8 927.4 218.3 925.9C219.7 924.4 221.0 922.7 222.4 921.1C223.7 919.5 225.0 917.8 226.3 916.2C227.6 914.5 228.9 912.9 230.2 911.2C231.5 909.5 232.8 907.9 234.1 906.3C235.4 904.6 236.8 903.0 238.1 901.5C239.5 899.9 240.9 898.4 242.3 897.0C243.8 895.5 245.3 894.1 246.8 892.8C248.3 891.4 249.8 890.1 251.4 888.9C253.0 887.7 254.7 886.5 256.3 885.3C258.0 884.2 259.7 883.1 261.4 882.1C263.1 881.1 264.9 880.1 266.7 879.2C268.5 878.3 270.3 877.4 272.1 876.6C274.0 875.8 275.9 875.1 277.8 874.4C279.7 873.7 281.6 873.0 283.6 872.4C285.5 871.8 287.5 871.2 289.5 870.7C291.4 870.2 293.4 869.7 295.4 869.2C297.4 868.7 299.5 868.2 301.5 867.8C303.5 867.3 305.5 866.9 307.5 866.5C309.5 866.1 311.5 865.7 313.5 865.3C315.5 864.9 317.5 864.5 319.5 864.1C321.5 863.8 323.5 863.4 325.5 863.1C327.5 862.7 329.5 862.4 331.5 862.1C333.5 861.8 335.5 861.5 337.5 861.2C339.5 861.0 341.5 860.7 343.6 860.5C345.6 860.3 347.6 860.1 349.6 859.9C351.6 859.7 353.7 859.5 355.7 859.4C357.7 859.2 359.7 859.1 361.8 858.9C363.8 858.8 365.8 858.7 367.9 858.5C369.9 858.4 371.9 858.3 374.0 858.2C376.0 858.1 378.1 858.0 380.1 857.9C382.1 857.8 384.2 857.8 386.2 857.7C388.2 857.6 390.3 857.5 392.3 857.5C394.4 857.4 396.4 857.3 398.4 857.2C400.5 857.2 402.5 857.1 404.6 857.0C406.6 857.0 408.6 856.9 410.7 856.8C412.7 856.8 414.7 856.7 416.8 856.6C418.8 856.6 420.9 856.5 422.9 856.5C424.9 856.4 427.0 856.4 429.0 856.3C431.0 856.3 433.1 856.2 435.1 856.2C437.1 856.1 439.2 856.1 441.2 856.0C443.2 856.0 445.3 855.9 447.3 855.9C449.4 855.8 451.4 855.8 453.4 855.8C455.5 855.7 457.5 855.7 459.5 855.7C461.6 855.6 463.6 855.6 465.6 855.6C467.7 855.5 469.7 855.5 471.7 855.5C473.8 855.4 475.8 855.4 477.9 855.4C479.9 855.4 481.9 855.3 484.0 855.3C486.0 855.3 488.0 855.3 490.1 855.2C492.1 855.2 494.1 855.2 496.2 855.2C498.2 855.2 500.2 855.2 502.3 855.1C504.3 855.1 506.3 855.1 508.4 855.1C510.4 855.1 512.4 855.1 514.5 855.1C516.5 855.1 518.6 855.1 520.6 855.1C522.6 855.1 524.7 855.1 526.7 855.1C528.7 855.0 530.8 855.0 532.8 855.0C534.8 855.0 536.9 855.1 538.9 855.1C540.9 855.1 543.0 855.1 545.0 855.1C547.0 855.1 549.1 855.1 551.1 855.1C553.2 855.1 555.2 855.1 557.2 855.1C559.3 855.1 561.3 855.1 563.3 855.1C565.4 855.1 567.4 855.2 569.4 855.2C571.5 855.2 573.5 855.2 575.6 855.2C577.6 855.2 579.6 855.2 581.7 855.3C583.7 855.3 585.7 855.3 587.8 855.3C589.8 855.3 591.8 855.3 593.9 855.4C595.9 855.4 598.0 855.4 600.0 855.4C602.0 855.4 604.1 855.4 606.1 855.5C608.1 855.5 610.2 855.5 612.2 855.5C614.2 855.5 616.3 855.6 618.3 855.6C620.4 855.6 622.4 855.6 624.4 855.6C626.5 855.7 628.5 855.7 630.5 855.7C632.6 855.7 634.6 855.7 636.6 855.8C638.7 855.8 640.7 855.8 642.8 855.8C644.8 855.8 646.8 855.9 648.9 855.9C650.9 855.9 652.9 855.9 655.0 855.9C657.0 856.0 659.0 856.0 661.1 856.0C663.1 856.0 665.2 856.0 667.2 856.0C669.2 856.1 671.3 856.1 673.3 856.1C675.3 856.1 677.4 856.1 679.4 856.1C681.4 856.1 683.5 856.2 685.5 856.2C687.6 856.2 689.6 856.2 691.6 856.2C693.7 856.2 695.7 856.2 697.7 856.2C699.8 856.3 701.8 856.3 703.8 856.3C705.9 856.3 707.9 856.3 710.0 856.3C712.0 856.3 714.0 856.3 716.1 856.3C718.1 856.3 720.1 856.3 722.2 856.3C724.2 856.3 726.2 856.3 728.3 856.3C730.3 856.3 732.4 856.3 734.4 856.3C736.4 856.3 739.5 856.3 740.5 856.3"/>
<path stroke="#800000" d="M753.5 856.3C754.5 856.3 757.5 856.3 759.5 856.3C761.6 856.3 763.6 856.3 765.6 856.3C767.6 856.3 769.6 856.3 771.6 856.3C773.6 856.3 775.6 856.3 777.7 856.3C779.7 856.3 781.7 856.3 783.7 856.3C785.7 856.3 787.7 856.3 789.7 856.3C791.7 856.3 793.8 856.3 795.8 856.3C797.8 856.3 799.8 856.3 801.8 856.3C803.8 856.3 805.8 856.3 807.9 856.3C809.9 856.3 811.9 856.3 813.9 856.3C815.9 856.3 817.9 856.3 819.9 856.3C822.0 856.3 824.0 856.3 826.0 856.4C828.0 856.4 830.0 856.4 832.0 856.4C834.0 856.4 836.0 856.4 838.1 856.4C840.1 856.4 842.1 856.4 844.1 856.4C846.1 856.4 848.1 856.4 850.1 856.4C852.2 856.4 854.2 856.4 856.2 856.4C858.2 856.4 860.2 856.4 862.2 856.4C864.2 856.4 866.3 856.4 868.3 856.4C870.3 856.3 872.3 856.3 874.3 856.3C876.3 856.3 878.3 856.3 880.3 856.3C882.4 856.3 884.4 856.3 886.4 856.3C888.4 856.3 890.4 856.3 892.4 856.3C894.4 856.3 896.5 856.3 898.5 856.3C900.5 856.2 902.5 856.2 904.5 856.2C906.5 856.2 908.5 856.2 910.5 856.2C912.6 856.2 914.6 856.2 916.6 856.1C918.6 856.1 920.6 856.1 922.6 856.1C924.6 856.1 926.6 856.1 928.7 856.0C930.7 856.0 932.7 856.0 934.7 856.0C936.7 855.9 938.7 855.9 940.7 855.9C942.7 855.9 944.7 855.8 946.8 855.8C948.8 855.8 950.8 855.8 952.8 855.7C954.8 855.7 956.8 855.7 958.8 855.6C960.8 855.6 962.8 855.6 964.9 855.5C966.9 855.5 968.9 855.5 970.9 855.4C972.9 855.4 974.9 855.3 976.9 855.3C978.9 855.3 980.9 855.2 983.0 855.2C985.0 855.1 987.0 855.1 989.0 855.0C991.0 855.0 993.0 854.9 995.0 854.9C997.0 854.8 999.0 854.8 1001.1 854.7C1003.1 854.6 1005.1 854.6 1007.1 854.5C1009.1 854.5 1011.1 854.4 1013.1 854.3C1015.1 854.3 1017.2 854.2 1019.2 854.1C1021.2 854.1 1023.2 854.0 1025.2 853.9C1027.2 853.8 1029.3 853.8 1031.3 853.7C1033.3 853.6 1035.3 853.5 1037.3 853.4C1039.3 853.4 1041.4 853.3 1043.4 853.2C1045.4 853.1 1047.4 853.0 1049.4 852.9C1051.5 852.7 1053.5 852.6 1055.5 852.4C1057.5 852.3 1059.5 852.1 1061.5 851.8C1063.5 851.5 1065.5 851.3 1067.4 850.9C1069.4 850.5 1071.4 850.1 1073.3 849.6C1075.3 849.2 1077.2 848.6 1079.1 848.0C1081.0 847.3 1083.0 846.6 1084.8 845.8C1086.7 845.0 1088.5 844.1 1090.2 843.1C1092.0 842.1 1093.7 841.0 1095.2 839.7C1096.7 838.5 1098.2 837.2 1099.4 835.7C1100.7 834.2 1101.8 832.6 1102.8 830.9C1103.8 829.2 1104.6 827.3 1105.4 825.5C1106.2 823.6 1106.9 821.7 1107.6 819.7C1108.2 817.8 1108.8 815.8 1109.4 813.8C1109.9 811.9 1110.5 809.9 1111.0 807.9C1111.5 805.9 1112.0 804.0 1112.5 802.0C1113.0 800.0 1113.4 798.0 1113.9 796.1C1114.3 794.1 1114.7 792.1 1115.2 790.1C1115.6 788.2 1116.0 786.2 1116.3 784.2C1116.7 782.2 1117.1 780.3 1117.4 778.3C1117.8 776.3 1118.2 774.3 1118.5 772.4C1118.9 770.4 1119.2 768.4 1119.5 766.4C1119.9 764.5 1120.2 762.5 1120.6 760.5C1120.9 758.5 1121.2 756.6 1121.6 754.6C1121.9 752.6 1122.3 750.7 1122.6 748.7C1123.0 746.7 1123.3 744.8 1123.7 742.8C1124.1 740.8 1124.4 738.9 1124.8 736.9C1125.2 734.9 1125.6 733.0 1126.0 731.0C1126.5 729.0 1126.9 727.1 1127.4 725.1C1127.8 723.2 1128.3 721.2 1128.7 719.3C1129.2 717.3 1129.7 715.3 1130.2 713.4C1130.7 711.4 1131.2 709.5 1131.7 707.5C1132.2 705.6 1132.7 703.6 1133.2 701.7C1133.7 699.7 1134.2 697.8 1134.7 695.8C1135.2 693.8 1135.8 691.9 1136.3 689.9C1136.8 688.0 1137.3 686.0 1137.8 684.1C1138.3 682.1 1138.7 680.1 1139.2 678.2C1139.7 676.2 1140.2 674.3 1140.6 672.3C1141.1 670.3 1141.5 668.4 1142.0 666.4C1142.4 664.4 1142.8 662.5 1143.2 660.5C1143.6 658.5 1144.1 656.5 1144.4 654.6C1144.8 652.6 1145.2 650.6 1145.6 648.7C1146.0 646.7 1146.4 644.7 1146.7 642.7C1147.1 640.7 1147.5 638.8 1147.8 636.8C1148.2 634.8 1148.6 632.8 1148.9 630.9C1149.3 628.9 1149.7 626.9 1150.1 624.9C1150.4 623.0 1150.8 621.0 1151.2 619.0C1151.5 617.0 1151.9 615.1 1152.3 613.1C1152.7 611.1 1153.1 609.1 1153.5 607.2C1153.9 605.2 1154.3 603.2 1154.7 601.2C1155.1 599.3 1155.5 597.3 1155.9 595.3C1156.3 593.4 1156.7 591.4 1157.1 589.4C1157.5 587.5 1157.9 585.5 1158.3 583.5C1158.8 581.6 1159.2 579.6 1159.6 577.6C1160.0 575.7 1160.5 573.7 1160.9 571.7C1161.3 569.8 1161.7 567.8 1162.2 565.8C1162.6 563.9 1163.1 561.9 1163.5 559.9C1163.9 558.0 1164.4 556.0 1164.8 554.0C1165.3 552.1 1165.7 550.1 1166.2 548.2C1166.6 546.2 1167.1 544.2 1167.5 542.3C1168.0 540.3 1168.5 538.4 1168.9 536.4C1169.4 534.4 1169.8 532.5 1170.3 530.5C1170.8 528.6 1171.2 526.6 1171.7 524.6C1172.2 522.7 1172.6 520.7 1173.1 518.8C1173.6 516.8 1174.0 514.9 1174.5 512.9C1175.0 510.9 1175.5 509.0 1175.9 507.0C1176.4 505.1 1176.9 503.1 1177.4 501.2C1177.9 499.2 1178.3 497.2 1178.8 495.3C1179.3 493.3 1179.8 491.4 1180.3 489.4C1180.8 487.5 1181.2 485.5 1181.7 483.6C1182.2 481.6 1182.7 479.6 1183.2 477.7C1183.7 475.7 1184.2 473.8 1184.7 471.8C1185.1 469.9 1185.6 467.9 1186.1 466.0C1186.6 464.0 1187.1 462.1 1187.6 460.1C1188.1 458.2 1188.6 456.2 1189.1 454.3C1189.6 452.3 1190.0 450.3 1190.5 448.4C1191.0 446.4 1191.5 444.5 1192.0 442.5C1192.5 440.6 1193.0 438.6 1193.5 436.7C1194.0 434.7 1194.5 432.8 1195.0 430.8C1195.4 428.9 1195.9 426.9 1196.4 425.0C1196.9 423.0 1197.4 421.1 1197.9 419.1C1198.4 417.2 1198.9 415.2 1199.4 413.2C1199.9 411.3 1200.4 409.3 1200.9 407.4C1201.3 405.4 1201.8 403.5 1202.3 401.5C1202.8 399.6 1203.3 397.6 1203.8 395.7C1204.3 393.7 1204.8 391.8 1205.3 389.8C1205.8 387.9 1206.3 385.9 1206.8 384.0C1207.3 382.0 1207.8 380.1 1208.3 378.1C1208.8 376.2 1209.3 374.2 1209.8 372.3C1210.2 370.3 1210.7 368.4 1211.2 366.4C1211.7 364.5 1212.2 362.5 1212.7 360.6C1213.2 358.6 1213.8 356.7 1214.3 354.7C1214.8 352.8 1215.3 350.8 1215.8 348.9C1216.3 346.9 1216.8 345.0 1217.3 343.1C1217.8 341.1 1218.3 339.2 1218.8 337.2C1219.3 335.3 1219.8 333.3 1220.3 331.4C1220.9 329.4 1221.4 327.5 1221.9 325.5C1222.4 323.6 1222.9 321.6 1223.4 319.7C1223.9 317.8 1224.5 315.8 1225.0 313.9C1225.5 311.9 1226.0 310.0 1226.6 308.0C1227.1 306.1 1227.6 304.2 1228.1 302.2C1228.7 300.3 1229.2 298.3 1229.7 296.4C1230.2 294.5 1230.8 292.5 1231.3 290.6C1231.8 288.6 1232.4 286.7 1232.9 284.8C1233.4 282.8 1234.0 280.9 1234.5 278.9C1235.1 277.0 1235.6 275.1 1236.2 273.1C1236.7 271.2 1237.2 269.3 1237.8 267.3C1238.3 265.4 1238.9 263.4 1239.4 261.5C1240.0 259.6 1240.6 257.6 1241.1 255.7C1241.7 253.8 1242.2 251.8 1242.8 249.9C1243.4 248.0 1243.9 246.0 1244.5 244.1C1245.1 242.2 1245.6 240.2 1246.2 238.3C1246.8 236.4 1247.3 234.5 1247.9 232.5C1248.5 230.6 1249.1 228.7 1249.7 226.7C1250.2 224.8 1250.8 222.9 1251.4 221.0C1252.0 219.0 1252.6 217.1 1253.2 215.2C1253.8 213.3 1254.4 211.3 1255.0 209.4C1255.6 207.5 1256.2 205.6 1256.8 203.6C1257.4 201.7 1258.0 199.8 1258.6 197.9C1259.2 195.9 1259.8 194.0 1260.4 192.1C1261.0 190.2 1261.7 188.3 1262.3 186.3C1262.9 184.4 1263.5 182.5 1264.1 180.6C1264.8 178.7 1265.4 176.8 1266.0 174.8C1266.7 172.9 1267.3 171.0 1268.0 169.1C1268.6 167.2 1269.2 165.3 1269.9 163.4C1270.6 161.5 1271.3 159.6 1272.1 157.8C1272.9 155.9 1273.7 154.1 1274.6 152.3C1275.4 150.5 1276.4 148.8 1277.4 147.1C1278.5 145.4 1279.6 143.7 1280.9 142.2C1282.1 140.6 1283.5 139.0 1285.0 137.6C1286.5 136.2 1288.1 134.7 1289.9 133.7C1291.6 132.7 1293.4 131.9 1295.3 131.7C1297.1 131.5 1299.1 131.9 1300.9 132.6C1302.6 133.4 1304.2 134.7 1305.6 136.1C1307.0 137.5 1308.2 139.3 1309.4 141.1C1310.5 142.9 1311.5 144.9 1312.4 146.7C1313.4 148.6 1314.2 150.5 1315.0 152.4C1315.8 154.2 1316.5 156.0 1317.2 157.9C1317.9 159.7 1318.5 161.6 1319.2 163.4C1319.8 165.3 1320.4 167.2 1321.0 169.1C1321.6 171.0 1322.2 172.9 1322.8 174.8C1323.3 176.7 1323.9 178.7 1324.4 180.6C1324.9 182.6 1325.4 184.5 1325.9 186.5C1326.5 188.4 1326.9 190.4 1327.4 192.4C1327.9 194.3 1328.4 196.3 1328.9 198.3C1329.4 200.2 1329.8 202.2 1330.3 204.2C1330.8 206.1 1331.2 208.1 1331.7 210.0C1332.2 212.0 1332.6 214.0 1333.1 215.9C1333.5 217.9 1334.0 219.9 1334.5 221.8C1334.9 223.8 1335.3 225.8 1335.8 227.7C1336.2 229.7 1336.7 231.6 1337.1 233.6C1337.6 235.6 1338.0 237.5 1338.4 239.5C1338.9 241.4 1339.3 243.4 1339.7 245.4C1340.1 247.3 1340.6 249.3 1341.0 251.2C1341.4 253.2 1341.8 255.2 1342.3 257.1C1342.7 259.1 1343.1 261.1 1343.5 263.0C1343.9 265.0 1344.3 267.0 1344.8 268.9C1345.2 270.9 1345.6 272.8 1346.0 274.8C1346.4 276.8 1346.8 278.8 1347.2 280.7C1347.6 282.7 1348.0 284.7 1348.4 286.6C1348.8 288.6 1349.2 290.6 1349.6 292.5C1350.0 294.5 1350.4 296.5 1350.8 298.5C1351.2 300.4 1351.6 302.4 1352.0 304.4C1352.4 306.4 1352.8 308.4 1353.2 310.4C1353.5 312.3 1353.9 314.3 1354.3 316.3C1354.7 318.3 1355.1 320.3 1355.5 322.3C1355.9 324.3 1356.3 326.2 1356.7 328.2C1357.1 330.2 1357.5 332.2 1357.9 334.2C1358.3 336.2 1358.7 338.1 1359.1 340.1C1359.5 342.1 1359.9 344.1 1360.4 346.1C1360.8 348.0 1361.2 350.0 1361.7 352.0C1362.1 353.9 1362.6 355.9 1363.0 357.8C1363.5 359.8 1363.9 361.8 1364.4 363.7C1364.9 365.6 1365.4 367.6 1365.9 369.5C1366.4 371.4 1366.9 373.4 1367.4 375.3C1367.9 377.2 1368.5 379.1 1369.0 381.0C1369.5 382.9 1370.1 384.8 1370.7 386.7C1371.2 388.6 1371.8 390.5 1372.4 392.4C1373.0 394.3 1373.6 396.3 1374.2 398.2C1374.8 400.1 1375.4 402.0 1376.0 403.9C1376.6 405.8 1377.3 407.7 1377.9 409.7C1378.5 411.6 1379.2 413.5 1379.8 415.5C1380.5 417.4 1381.1 419.4 1381.8 421.4C1382.5 423.3 1383.1 425.4 1383.9 427.3C1384.6 429.3 1385.3 431.3 1386.1 433.2C1386.9 435.0 1387.8 436.9 1388.9 438.6C1389.9 440.3 1391.0 442.0 1392.3 443.5C1393.6 444.9 1395.2 446.5 1396.7 447.4C1398.3 448.3 1400.1 449.1 1401.6 449.0C1403.2 448.8 1404.6 447.8 1406.0 446.6C1407.3 445.4 1408.5 443.5 1409.6 441.7C1410.7 439.9 1411.7 437.8 1412.5 435.8C1413.4 433.9 1414.1 431.9 1414.8 430.0C1415.4 428.1 1416.0 426.1 1416.6 424.2C1417.2 422.3 1417.7 420.3 1418.3 418.4C1418.8 416.5 1419.3 414.5 1419.8 412.6C1420.4 410.6 1420.8 408.7 1421.3 406.7C1421.8 404.8 1422.2 402.8 1422.7 400.9C1423.1 398.9 1423.6 397.0 1424.0 395.0C1424.4 393.0 1424.8 391.1 1425.2 389.1C1425.6 387.1 1425.9 385.2 1426.3 383.2C1426.7 381.2 1427.0 379.2 1427.4 377.3C1427.7 375.3 1428.0 373.3 1428.4 371.3C1428.7 369.3 1429.0 367.3 1429.3 365.4C1429.6 363.4 1429.9 361.4 1430.2 359.4C1430.4 357.4 1430.7 355.4 1431.0 353.4C1431.3 351.4 1431.5 349.4 1431.8 347.4C1432.0 345.4 1432.3 343.4 1432.5 341.5C1432.8 339.5 1433.0 337.5 1433.3 335.5C1433.5 333.5 1433.7 331.5 1434.0 329.5C1434.2 327.5 1434.4 325.5 1434.7 323.5C1434.9 321.5 1435.1 319.5 1435.3 317.4C1435.6 315.4 1435.8 313.4 1436.0 311.4C1436.2 309.4 1436.5 307.4 1436.7 305.4C1436.9 303.4 1437.1 301.4 1437.4 299.4C1437.6 297.4 1437.8 295.4 1438.0 293.4C1438.2 291.4 1438.5 289.4 1438.7 287.4C1438.9 285.4 1439.1 283.4 1439.4 281.4C1439.6 279.4 1439.8 277.4 1440.0 275.4C1440.2 273.4 1440.5 271.4 1440.7 269.4C1440.9 267.4 1441.1 265.4 1441.3 263.4C1441.5 261.4 1441.8 259.4 1442.0 257.4C1442.2 255.4 1442.4 253.4 1442.6 251.4C1442.8 249.4 1443.0 247.4 1443.2 245.4C1443.4 243.4 1443.6 241.4 1443.8 239.4C1444.0 237.4 1444.2 235.4 1444.4 233.4C1444.6 231.4 1444.8 229.4 1445.0 227.4C1445.1 225.4 1445.3 223.4 1445.5 221.3C1445.7 219.3 1445.9 217.3 1446.0 215.3C1446.2 213.3 1446.4 211.3 1446.5 209.3C1446.7 207.3 1446.9 205.3 1447.0 203.3C1447.2 201.3 1447.3 199.3 1447.5 197.3C1447.6 195.3 1447.8 193.3 1447.9 191.3C1448.0 189.2 1448.2 187.2 1448.3 185.2C1448.4 183.2 1448.6 181.2 1448.7 179.2C1448.8 177.2 1449.0 175.2 1449.1 173.2C1449.2 171.2 1449.3 169.2 1449.4 167.1C1449.6 165.1 1449.7 163.1 1449.8 161.1C1449.9 159.1 1450.0 157.1 1450.2 155.1C1450.3 153.1 1450.4 151.1 1450.5 149.1C1450.6 147.0 1450.7 145.0 1450.9 143.0C1451.0 141.0 1451.1 139.0 1451.2 137.0C1451.4 135.0 1451.5 133.0 1451.6 131.0C1451.7 129.0 1451.9 126.9 1452.0 124.9C1452.1 122.9 1452.3 120.9 1452.4 118.9C1452.5 116.9 1452.7 114.9 1452.8 112.9C1453.0 110.9 1453.1 108.9 1453.3 106.9C1453.4 104.9 1453.6 102.9 1453.7 100.8C1453.9 98.8 1454.1 96.8 1454.2 94.8C1454.4 92.8 1454.6 90.8 1454.8 88.8C1455.0 86.8 1455.2 84.8 1455.4 82.8C1455.6 80.8 1455.9 77.8 1456.0 76.8"/>
</g>
<g class="ax">
<rect x="121" y="43" width="1390" height="4"/>
<rect x="121" y="1055" width="1390" height="4"/>
<rect x="121" y="43" width="3" height="1016"/>
<rect x="1507" y="29" width="4" height="1043"/>
<rect x="1508" y="1072" width="2" height="1"/>
<rect x="174" y="29" width="3" height="14"/>
<rect x="174" y="1059" width="3" height="13"/>
<rect x="175" y="1072" width="1" height="1"/>
<rect x="440" y="29" width="4" height="14"/>
<rect x="440" y="1059" width="4" height="13"/>
<rect x="441" y="1072" width="2" height="1"/>
<rect x="707" y="29" width="4" height="14"/>
<rect x="707" y="1059" width="4" height="13"/>
<rect x="708" y="1072" width="2" height="1"/>
<rect x="973" y="29" width="4" height="14"/>
<rect x="973" y="1059" width="4" height="13"/>
<rect x="974" y="1072" width="2" height="1"/>
<rect x="1240" y="29" width="4" height="14"/>
<rect x="1240" y="1059" width="4" height="13"/>
<rect x="1241" y="1072" width="2" height="1"/>
<rect x="107" y="106" width="14" height="4"/>
<rect x="1511" y="106" width="14" height="4"/>
<rect x="107" y="316" width="14" height="4"/>
<rect x="1511" y="316" width="14" height="4"/>
<rect x="107" y="527" width="14" height="4"/>
<rect x="1511" y="527" width="14" height="4"/>
<rect x="107" y="738" width="14" height="4"/>
<rect x="1511" y="738" width="14" height="4"/>
<rect x="107" y="949" width="14" height="3"/>
<rect x="1511" y="949" width="14" height="3"/>
</g>
<text transform="translate(175.7 1171.2) scale(1 1.02)" font-size="71" text-anchor="middle" class="tk">-<tspan class="n1" font-size="65.5" stroke-width="1.2" dx="1.80" dy="-0.6">1</tspan><tspan dx="-2.02" dy="0.6">.0</tspan></text>
<text transform="translate(442.3 1171.2) scale(1 1.02)" font-size="71" text-anchor="middle" class="tk">-0.5</text>
<text transform="translate(708.9 1171.2) scale(1 1.02)" font-size="71" text-anchor="middle" class="tk">0.0</text>
<text transform="translate(975.4 1171.2) scale(1 1.02)" font-size="71" text-anchor="middle" class="tk">0.5</text>
<text transform="translate(1242.2 1171.2) scale(1 1.02)" font-size="71" text-anchor="middle" class="tk"><tspan class="n1" font-size="65.5" stroke-width="1.2" dx="1.80" dy="-0.6">1</tspan><tspan dx="-2.02" dy="0.6">.0</tspan></text>
<text transform="translate(1509.0 1171.2) scale(1 1.02)" font-size="71" text-anchor="middle" class="tk"><tspan class="n1" font-size="65.5" stroke-width="1.2" dx="1.80" dy="-0.6">1</tspan><tspan dx="-2.02" dy="0.6">.5</tspan></text>
<text transform="translate(816.8 1260.8) scale(1 1.015)" font-size="70.2" text-anchor="middle">E (V) vs.Ag</text>
<text transform="translate(82 545.5) rotate(-90) scale(1 1.0)" font-size="71.4" text-anchor="middle">I (a. u.)</text>
<text transform="translate(195.2 117.8) scale(1 1.02)" font-size="55.2" text-anchor="start">20mV/s</text>
<g class="cv">
<path stroke="#ff0000" d="M177.5 207.5H318.5"/>
<path stroke="#000000" d="M177.5 303.5H318.5"/>
<path stroke="#0000ff" d="M177.5 399.5H318.5"/>
<path stroke="#800000" d="M177.5 494.5H318.5"/>
</g>
<text transform="translate(354.0 219) scale(1 1.015)" font-size="62.35" text-anchor="start">[Pyrr][PTS]<tspan dy="19.4" dx="-1">aq</tspan></text>
<text transform="translate(354.0 315) scale(1 1.015)" font-size="62.35" text-anchor="start">[Pyrr][HSO<tspan dy="19.6" font-size="40.3" stroke-width="0.8">4</tspan><tspan dy="-19.6" dx="1.2">]</tspan><tspan dy="19.4" dx="-2">aq</tspan></text>
<text transform="translate(354.0 411) scale(1 1.015)" font-size="62.35" text-anchor="start">[Imi][<tspan dx="1">HSO</tspan><tspan dy="19.6" font-size="40.3" stroke-width="0.8">4</tspan><tspan dy="-19.6" dx="1.5">]</tspan><tspan dy="19.4" dx="-2">aq</tspan></text>
<text transform="translate(354.0 507) scale(1 1.03)" font-size="62.35" text-anchor="start">H<tspan dy="17.3">2</tspan><tspan dy="-17.3">SO</tspan><tspan dy="17.3">4</tspan><tspan dy="-17.3">(<tspan class="n1" font-size="57.5" stroke-width="1.6" dx="0.45" dy="-0.6">1</tspan><tspan dx="-0.62" dy="0.6">M)</tspan></tspan></text>
</svg></body></html>
